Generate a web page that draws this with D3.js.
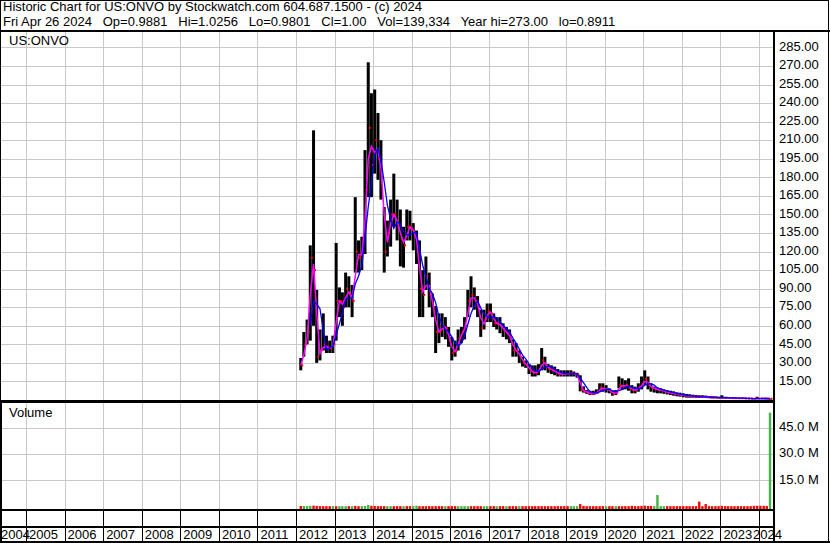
<!DOCTYPE html>
<html>
<head>
<meta charset="utf-8">
<script src="https://cdn.jsdelivr.net/npm/d3@7"></script>
<style>
body { margin: 0; background: #fff; }
svg text { font-family: Arial, "Liberation Sans", sans-serif; font-size: 13px; fill: #000; }
</style>
</head>
<body>
<svg id="chart" width="830" height="543"></svg>
<script>
// monthly bars, first bar = Feb 2012, last = Apr 2024
var firstMonth = new Date(2012, 1, 15);

var hi = [
  34, 55, 65, 125, 218, 89, 57, 70, 52, 48, 52,                 // 2012 (Feb-Dec)
  127, 91, 87, 103, 100, 93, 164, 129, 132, 202, 273, 248,      // 2013
  251, 232, 210, 156, 145, 162, 183, 162, 154, 140, 154, 153,   // 2014
  143, 137, 129, 105, 116, 103, 86, 76, 70, 70, 67, 59,         // 2015
  51, 48, 57, 59, 67, 89, 100, 91, 84, 73, 73, 78,              // 2016
  78, 70, 67, 67, 62, 59, 57, 49, 46, 40, 35, 32,               // 2017
  29, 28, 28, 29, 42, 35, 29, 28, 27, 25, 24, 24,               // 2018
  24, 24, 23, 22, 20, 11, 8, 7.5, 7.5, 8.6, 13.5, 13.5,         // 2019
  12, 9.4, 7.5, 8, 19, 17.5, 16, 17.5, 12, 10.8, 13.5, 19,      // 2020
  24, 19, 13.5, 10.8, 10, 9.5, 8.6, 8, 7.5, 7, 6.2, 5.9,        // 2021
  5.4, 4.9, 4.6, 4.3, 4.0, 3.8, 3.8, 3.6, 3.2, 3.0, 2.9, 2.7,   // 2022
  3.8, 2.6, 2.2, 2.0, 1.9, 1.9, 1.8, 1.7, 1.6, 1.5, 1.4, 2.6,   // 2023
  1.6, 1.5, 1.4, 1.1                                            // 2024
];
var lo = [
  24, 35, 45, 48, 60, 30, 32, 40, 38, 38, 38,
  48, 67, 60, 75, 75, 67, 103, 103, 105, 118, 164, 164,
  183, 178, 162, 103, 116, 124, 140, 129, 108, 107, 129, 129,
  121, 110, 67, 67, 89, 75, 67, 38, 46, 51, 49, 43,
  32, 35, 40, 46, 49, 67, 75, 73, 67, 51, 57, 63,
  63, 59, 57, 54, 51, 49, 46, 35, 35, 30, 27, 26,
  21, 19, 19, 20, 24, 24, 22, 21, 20, 19, 19, 19,
  19, 19, 19, 18, 7, 6, 5, 4, 4, 5, 6.7, 6.7,
  6, 5.4, 3.5, 4, 9.4, 8, 8.6, 7.5, 5.4, 5.4, 6.7, 8.6,
  12, 8.6, 6.7, 6, 5.4, 5.4, 5, 4.5, 4, 3.5, 3, 2.7,
  2.2, 1.9, 1.9, 1.9, 1.7, 1.6, 1.6, 1.6, 1.5, 1.4, 1.4, 1.3,
  1.3, 1.4, 1.3, 1.2, 1.2, 1.2, 1.2, 1.1, 1.0, 1.0, 0.95, 0.95,
  1.1, 1.1, 1.0, 0.89
];
var cl = [
  28, 45, 55, 115, 105, 35, 40, 45, 42, 42, 45,
  80, 80, 75, 90, 85, 80, 120, 115, 120, 170, 220, 190,
  210, 195, 180, 120, 135, 150, 150, 140, 130, 125, 140, 140,
  135, 125, 90, 85, 100, 85, 75, 55, 55, 60, 58, 48,
  38, 40, 50, 55, 60, 80, 85, 80, 75, 58, 65, 72,
  70, 62, 62, 60, 56, 54, 50, 40, 40, 35, 30, 28,
  24, 22, 22, 24, 32, 28, 25, 24, 23, 21, 21, 21,
  21, 22, 21, 20, 8, 7, 6, 5, 5, 6, 10, 9,
  9, 7, 5, 6, 12, 11, 12, 10, 8, 8, 10, 13,
  17, 12, 10, 9, 8, 8, 7, 6, 5.5, 5, 4.5, 4,
  3.5, 3.2, 3.0, 2.8, 2.6, 2.5, 2.4, 2.3, 2.1, 2.0, 1.9, 1.8,
  1.8, 1.8, 1.6, 1.5, 1.5, 1.4, 1.4, 1.3, 1.2, 1.1, 1.1, 1.2,
  1.3, 1.2, 1.1, 1.0
];
// volume in millions of shares
var vol = [
  0.3, 0.3, 0.3, 0.4, 0.5, 0.3, 0.2, 0.2, 0.2, 0.2, 0.2,
  0.2, 0.2, 0.2, 0.2, 0.2, 0.2, 0.3, 0.2, 0.2, 0.3, 0.9, 0.4,
  0.3, 0.2, 0.2, 0.2, 0.2, 0.2, 0.2, 0.2, 0.2, 0.2, 0.2, 0.2,
  0.2, 0.5, 0.2, 0.2, 0.2, 0.2, 0.2, 0.2, 0.2, 0.2, 0.2, 0.2,
  0.2, 0.2, 0.2, 0.2, 0.2, 0.2, 0.2, 0.2, 0.2, 0.2, 0.2, 0.2,
  0.2, 0.2, 0.2, 0.2, 0.2, 0.2, 0.2, 0.2, 0.2, 0.2, 0.2, 0.2,
  0.2, 0.2, 0.2, 0.2, 0.2, 0.2, 0.2, 0.2, 0.2, 0.2, 0.2, 0.2,
  0.2, 0.2, 0.2, 0.2, 1.4, 0.3, 0.2, 0.2, 0.2, 0.2, 0.2, 0.2,
  0.2, 0.2, 0.2, 0.2, 0.2, 0.2, 0.2, 0.2, 0.4, 0.2, 0.2, 0.3,
  0.5, 0.3, 0.3, 0.2, 6.6, 0.2, 0.2, 0.2, 0.2, 0.2, 0.2, 0.2,
  0.2, 0.2, 0.2, 0.2, 0.2, 2.8, 0.2, 1.4, 0.2, 0.2, 0.2, 0.2,
  0.4, 0.2, 0.2, 0.2, 0.2, 0.2, 0.2, 0.2, 0.2, 0.2, 0.4, 0.4,
  0.4, 0.4, 0.3, 54
];

var priceTicks = d3.range(15, 286, 15);
var volTicks = [15, 30, 45];
var titleLine = "Historic Chart for US:ONVO by Stockwatch.com 604.687.1500 - (c) 2024";
var infoLine = "Fri Apr 26 2024   Op=0.9881   Hi=1.0256   Lo=0.9801   Cl=1.00   Vol=139,334   Year hi=273.00   lo=0.8911";

var data = hi.map(function(h, i) {
  return { date: d3.timeMonth.offset(firstMonth, i), hi: h, lo: lo[i], cl: cl[i], vol: vol[i] };
});
// moving averages of the closes (short = pink, long = blue)
data.forEach(function(d, i) {
  d.maShort = d3.mean(data.slice(Math.max(0, i - 1), i + 1), function(e) { return e.cl; });
  if (i >= 3) d.maLong = d3.mean(data.slice(i - 3, i + 1), function(e) { return e.cl; });
});

var svg = d3.select("#chart");
var axisX = 774;

var x = d3.scaleTime()
  .domain([new Date(2004, 0, 1), new Date(2024, 4, 18)])
  .range([-12.6, 773.5]);
var yP = d3.scaleLinear().domain([0, 298.3]).range([400, 31]);
var yV = d3.scaleLinear().domain([0, 59.8]).range([506.5, 402.5]);

var years = d3.timeYear.range(new Date(2005, 0, 1), new Date(2024, 1, 1));

svg.append("rect").attr("width", 830).attr("height", 543).attr("fill", "#fff");

// clip areas
var defs = svg.append("defs");
defs.append("clipPath").attr("id", "clipP").append("rect")
  .attr("x", 0).attr("y", 31).attr("width", axisX - 1).attr("height", 369);
defs.append("clipPath").attr("id", "clipV").append("rect")
  .attr("x", 0).attr("y", 403).attr("width", axisX - 1).attr("height", 107);

// grids
var grid = svg.append("g").attr("stroke", "#c8c8c8").attr("stroke-width", 1).attr("shape-rendering", "crispEdges");
grid.selectAll(".vg").data(years).enter().append("line")
  .attr("x1", function(d) { return Math.round(x(d)) + 0.5; })
  .attr("x2", function(d) { return Math.round(x(d)) + 0.5; })
  .attr("y1", 31).attr("y2", 510);
grid.selectAll(".hp").data(priceTicks).enter().append("line")
  .attr("x1", 0).attr("x2", axisX)
  .attr("y1", function(d) { return Math.round(yP(d)) + 0.5; })
  .attr("y2", function(d) { return Math.round(yP(d)) + 0.5; });
grid.selectAll(".hv").data(volTicks).enter().append("line")
  .attr("x1", 0).attr("x2", axisX)
  .attr("y1", function(d) { return Math.round(yV(d)) + 0.5; })
  .attr("y2", function(d) { return Math.round(yV(d)) + 0.5; });

// price bars
var price = svg.append("g").attr("clip-path", "url(#clipP)");
price.selectAll(".bar").data(data).enter().append("rect")
  .attr("x", function(d) { return x(d.date) - 1.5; })
  .attr("width", 3)
  .attr("y", function(d) { return yP(d.hi); })
  .attr("height", function(d) { return Math.max(1, yP(d.lo) - yP(d.hi)); })
  .attr("fill", "#000");
price.selectAll(".cl").data(data).enter().append("rect")
  .attr("x", function(d) { return x(d.date) + 0.5; })
  .attr("width", 2)
  .attr("y", function(d) { return yP(d.cl) - 1; })
  .attr("height", 2)
  .attr("fill", "#ff0000");

var maShortLine = d3.line()
  .x(function(d) { return x(d.date); })
  .y(function(d) { return yP(d.maShort); });
var maLongLine = d3.line()
  .defined(function(d) { return d.maLong !== undefined; })
  .x(function(d) { return x(d.date); })
  .y(function(d) { return yP(d.maLong); });
price.append("path").datum(data).attr("d", maShortLine)
  .attr("fill", "none").attr("stroke", "#ff00ff").attr("stroke-width", 1.5);
price.append("path").datum(data).attr("d", maLongLine)
  .attr("fill", "none").attr("stroke", "#0000ff").attr("stroke-width", 1.3);

// volume bars
var volume = svg.append("g").attr("clip-path", "url(#clipV)");
volume.selectAll(".vb").data(data).enter().append("rect")
  .attr("x", function(d) { return x(d.date) - 1.2; })
  .attr("width", 2.4)
  .attr("y", function(d) { return yV(d.vol); })
  .attr("height", function(d) { return 509 - yV(d.vol); })
  .attr("fill", function(d) { return d.cl >= (d.hi + d.lo) / 2 ? "#44b444" : "#ff0000"; });

// axes on the right
var pAxis = svg.append("g").attr("transform", "translate(" + (axisX + 1) + ",-1.5)")
  .call(d3.axisRight(yP).tickValues(priceTicks).tickFormat(d3.format(".2f")).tickSize(0).tickPadding(4));
var vAxis = svg.append("g").attr("transform", "translate(" + (axisX + 1) + ",-1.5)")
  .call(d3.axisRight(yV).tickValues(volTicks).tickFormat(function(d) { return d.toFixed(1) + " M"; }).tickSize(0).tickPadding(4));
[pAxis, vAxis].forEach(function(a) {
  a.select(".domain").remove();
  a.selectAll("text").attr("fill", "#000").style("font-size", "13px").style("font-family", "Arial, 'Liberation Sans', sans-serif");
});

// frame lines
var frame = svg.append("g").attr("stroke", "#000").attr("shape-rendering", "crispEdges");
frame.append("rect").attr("x", 0.5).attr("y", 0.5).attr("width", 828).attr("height", 541)
  .attr("fill", "none").attr("stroke-width", 1);
frame.append("line").attr("x1", 0).attr("x2", 830).attr("y1", 30.5).attr("y2", 30.5).attr("stroke-width", 2);
frame.append("line").attr("x1", axisX).attr("x2", axisX).attr("y1", 30).attr("y2", 543).attr("stroke-width", 2);
frame.append("line").attr("x1", 0).attr("x2", axisX).attr("y1", 400.5).attr("y2", 400.5).attr("stroke-width", 2);
frame.append("line").attr("x1", 0).attr("x2", axisX).attr("y1", 402.5).attr("y2", 402.5).attr("stroke-width", 1);
frame.append("line").attr("x1", 0).attr("x2", axisX).attr("y1", 510).attr("y2", 510).attr("stroke-width", 2);
frame.append("line").attr("x1", 0).attr("x2", axisX).attr("y1", 527).attr("y2", 527).attr("stroke-width", 2);
frame.append("line").attr("x1", 0).attr("x2", 830).attr("y1", 542).attr("y2", 542).attr("stroke-width", 2);
frame.append("line").attr("x1", 1).attr("x2", 1).attr("y1", 400).attr("y2", 543).attr("stroke-width", 2);
frame.selectAll(".yt").data(years).enter().append("line")
  .attr("x1", function(d) { return Math.round(x(d)) + 0.5; })
  .attr("x2", function(d) { return Math.round(x(d)) + 0.5; })
  .attr("y1", 510).attr("y2", 542).attr("stroke-width", 1.5);

// year labels
var yearLabels = d3.timeYear.range(new Date(2004, 0, 1), new Date(2024, 1, 1));
svg.append("g").selectAll("text").data(yearLabels).enter().append("text")
  .attr("x", function(d) { return Math.min(753, Math.max(1, x(d) + 3)); })
  .attr("y", 539)
  .text(function(d) { return d.getFullYear(); });

// texts
svg.append("text").attr("x", 3).attr("y", 11).text(titleLine);
svg.append("text").attr("x", 3).attr("y", 26).attr("xml:space", "preserve").style("white-space", "pre").text(infoLine);
svg.append("text").attr("x", 9).attr("y", 45).text("US:ONVO");
svg.append("text").attr("x", 9).attr("y", 417).text("Volume");
</script>
</body>
</html>
